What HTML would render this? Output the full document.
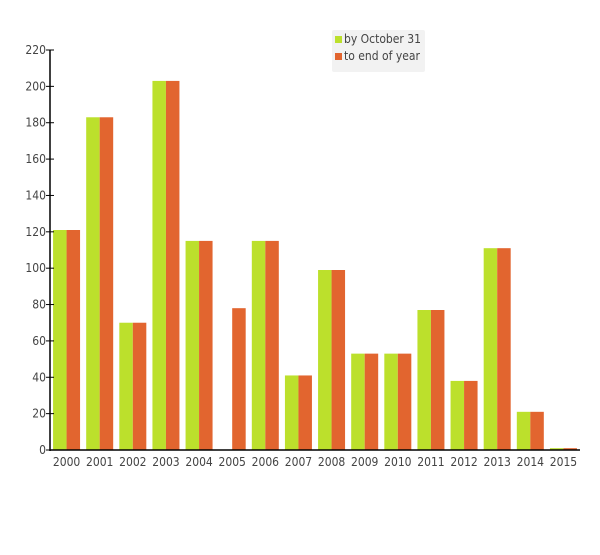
<!DOCTYPE html>
<html><head><meta charset="utf-8"><style>
body{margin:0;background:#fff;}
svg text{font-family:"DejaVu Sans Condensed","Liberation Sans",sans-serif;fill:#444;font-size:12px;}
</style></head><body>
<svg width="600" height="550" id="c"></svg>
<script>
const categories=["2000","2001","2002","2003","2004","2005","2006","2007","2008","2009","2010","2011","2012","2013","2014","2015"];
const byOct31=[121,183,70,203,115,0,115,41,99,53,53,77,38,111,21,1];
const toEnd=[121,183,70,203,115,78,115,41,99,53,53,77,38,111,21,1];
const yTicks=[0,20,40,60,80,100,120,140,160,180,200,220];
const NS="http://www.w3.org/2000/svg";
const svg=document.getElementById('c');
const x0=50,x1=580,y0=450,yTop=50,yMax=220;
const band=(x1-x0)/categories.length;
const y=v=>y0-(v/yMax)*(y0-yTop);
const xg=i=>x0+i*band;
function mk(t,a){const e=document.createElementNS(NS,t);for(const k in a)e.setAttribute(k,a[k]);svg.appendChild(e);return e;}
const bw=13.5;
categories.forEach((c,i)=>{
  const cx=xg(i)+band/2;
  const g=mk('rect',{x:cx-bw,y:y(byOct31[i]),width:bw,height:y0-y(byOct31[i]),fill:'#bce02c'});
  
  
  const o=mk('rect',{x:cx,y:y(toEnd[i]),width:bw,height:y0-y(toEnd[i]),fill:'#e2652f'});
  
  
  const t=mk('text',{x:cx,y:466,'text-anchor':'middle'});t.textContent=c;
  
  
});
yTicks.forEach(v=>{
  const l=mk('line',{x1:46,x2:54,y1:y(v),y2:y(v),stroke:'#000'});
  
  
  const t=mk('text',{x:46,y:y(v)+4,'text-anchor':'end'});t.textContent=v;
  
  
});
const ya=mk('line',{x1:x0,x2:x0,y1:yTop,y2:y0+1,stroke:'#000','stroke-width':1.5});


const xa=mk('line',{x1:x0,x2:x1,y1:y0,y2:y0,stroke:'#000','stroke-width':1.5});


const lg=mk('rect',{x:332,y:30,width:93,height:42,fill:'#f2f2f2',rx:2});


[['by October 31','#bce02c',42],['to end of year','#e2652f',59]].forEach(([n,c,yy])=>{
  const s=mk('rect',{x:335,y:yy-6,width:7,height:7,fill:c});
  
  
  const t=mk('text',{x:344,y:yy+1});t.textContent=n;
  
  
});
</script>
</body></html>
